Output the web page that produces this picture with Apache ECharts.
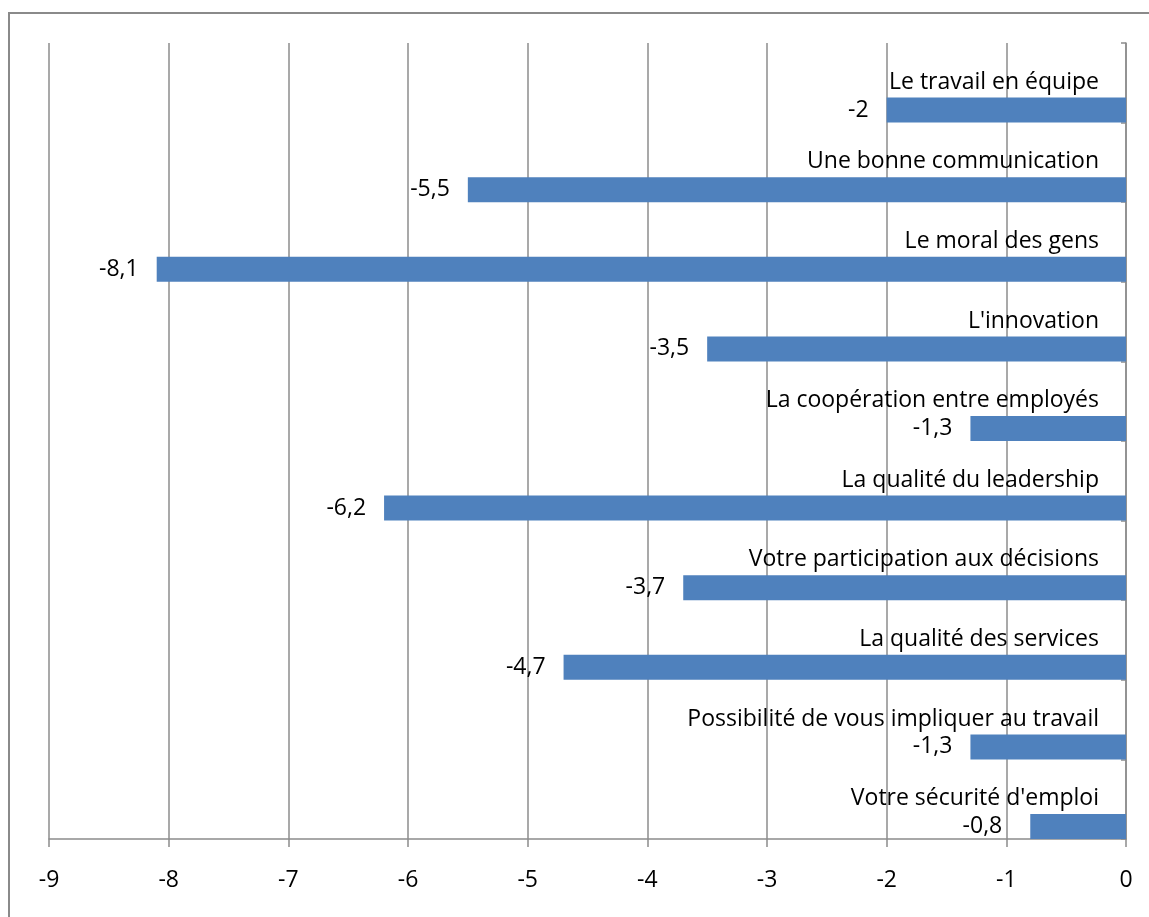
<!DOCTYPE html>
<html>
<head>
<meta charset="utf-8">
<script src="https://cdn.jsdelivr.net/npm/echarts@6/dist/echarts.min.js"></script>
<style>
  html, body { margin: 0; padding: 0; background: #fff; }
  #chart { width: 1149px; height: 917px; }
</style>
</head>
<body>
<div id="chart"></div>
<script>
// Survey items, listed top to bottom
const categories = [
  "Le travail en équipe",
  "Une bonne communication",
  "Le moral des gens",
  "L'innovation",
  "La coopération entre employés",
  "La qualité du leadership",
  "Votre participation aux décisions",
  "La qualité des services",
  "Possibilité de vous impliquer au travail",
  "Votre sécurité d'emploi"
];
// Score change per item
const values = [-2, -5.5, -8.1, -3.5, -1.3, -6.2, -3.7, -4.7, -1.3, -0.8];
// Value axis range
const axisMin = -9;
const axisMax = 0;
const axisStep = 1;

const FONT = "Open Sans";
const FONT_SIZE = 23;
const GRID_GRAY = "#8c8c8c";

const chart = echarts.init(document.getElementById("chart"), null, { renderer: "canvas" });

const fmt = v => String(v).replace(".", ",");

chart.setOption({
  animation: false,
  backgroundColor: "#fff",
  textStyle: { fontFamily: FONT },
  grid: { left: 49, right: 23, top: 43, bottom: 78, containLabel: false },
  xAxis: {
    type: "value",
    min: axisMin,
    max: axisMax,
    interval: axisStep,
    axisLine: { show: true, lineStyle: { color: GRID_GRAY, width: 1.5 } },
    axisTick: { show: true, length: 8, lineStyle: { color: GRID_GRAY, width: 1.5 } },
    axisLabel: { color: "#000", fontSize: FONT_SIZE, fontFamily: FONT, margin: 30 },
    splitLine: { show: true, lineStyle: { color: GRID_GRAY, width: 1.5 } }
  },
  yAxis: {
    type: "category",
    data: categories,
    inverse: true,
    position: "right",
    axisLine: { show: true, onZero: false, lineStyle: { color: GRID_GRAY, width: 1.5 } },
    axisTick: { show: true, inside: true, length: 5, lineStyle: { color: GRID_GRAY, width: 1.5 } },
    axisLabel: { show: false },
    splitLine: { show: false }
  },
  series: [
    {
      // zero-length bars that carry the item names above each bar
      name: "labels",
      type: "bar",
      barWidth: 54.6,
      barGap: "0%",
      data: values.map(() => 0),
      itemStyle: { color: "rgba(0,0,0,0)" },
      silent: true,
      label: {
        show: true,
        position: "left",
        distance: 27,
        offset: [0, 12],
        color: "#000",
        fontSize: FONT_SIZE,
        fontFamily: FONT,
        formatter: p => categories[p.dataIndex]
      }
    },
    {
      name: "score",
      type: "bar",
      barWidth: 25,
      barGap: "0%",
      data: values.map(v => v > -1
        ? { value: v, label: { distance: 28 } }
        : v),
      itemStyle: { color: "#4f81bd" },
      label: {
        show: true,
        position: "left",
        distance: 18,
        color: "#000",
        fontSize: FONT_SIZE,
        fontFamily: FONT,
        formatter: p => fmt(p.value)
      }
    }
  ],
  graphic: [
    {
      type: "rect",
      silent: true,
      shape: { x: 9, y: 13, width: 1170, height: 1000 },
      style: { fill: null, stroke: "#8a8a8a", lineWidth: 2 }
    }
  ]
});
</script>
</body>
</html>
